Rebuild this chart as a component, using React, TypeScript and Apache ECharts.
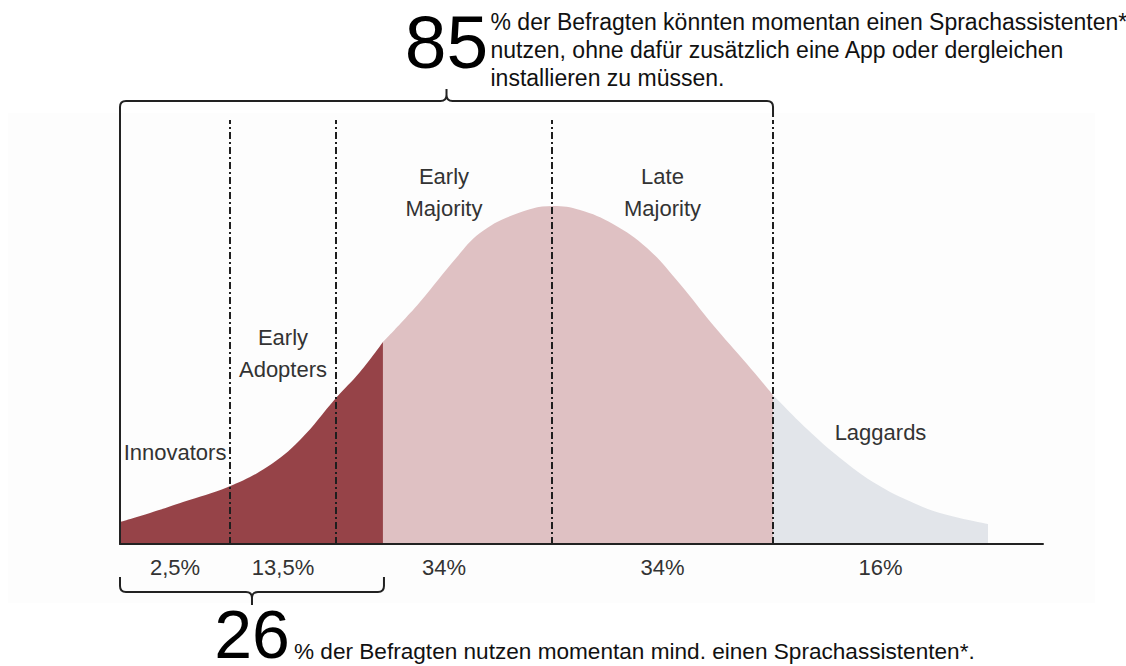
import React, { useEffect, useRef } from "react";
import * as echarts from "echarts";

// Bell curve (x: position across the axis 0–100, y: height 0–100)
const curveX = [0, 3.25, 6.83, 11.7, 15.93, 19.5, 23.4, 26.0, 28.49, 30.34, 32.5, 36.51, 39.0, 42.58, 46.91, 49.84, 53.41, 57.1, 60.67, 64.25, 67.93, 70.75, 74.43, 78.01, 81.58, 85.27, 88.84, 94.04];
const curveY = [5.15, 7.26, 9.84, 13.35, 18.03, 24.36, 34.19, 40.28, 47.31, 51.52, 56.67, 67.21, 72.83, 77.05, 79.16, 78.22, 74.94, 69.32, 60.89, 51.29, 42.15, 34.89, 26.93, 20.14, 14.52, 10.3, 7.26, 4.68];

// Adopter segments
const segmentBounds = [0, 11.92, 23.4, 46.8, 70.75, 94.04];
const segmentNames = ["Innovators", "Early\nAdopters", "Early\nMajority", "Late\nMajority", "Laggards"];
const segmentShares = ["2,5%", "13,5%", "34%", "34%", "16%"];

// Filled areas: current users (26 %), could use (85 %), rest
const fillBounds = [0, 28.49, 70.75, 94.04];
const fillColors = ["#964348", "#dfc1c3", "#e2e5ea"];

// Headline figures
const topFigure = "85";
const topText = ["% der Befragten könnten momentan einen Sprachassistenten*", "nutzen, ohne dafür zusätzlich eine App oder dergleichen", "installieren zu müssen."];
const bottomFigure = "26";
const bottomText = "% der Befragten nutzen momentan mind. einen Sprachassistenten*.";

const FONT = '"Liberation Sans", Arial, Helvetica, sans-serif';
const labelLevels = [21.5, 44.5, 82.3, 82.3, 26.0];
const shareLevel = -5.4;

export default function App() {
  const ref = useRef<HTMLDivElement>(null);
  useEffect(() => {
    if (!ref.current) return;
    const chart = echarts.init(ref.current, null, { renderer: "svg" });
    const pts = curveX.map((x, i) => [x, curveY[i]]);
    const seg = (a: number, b: number) => pts.filter((p) => p[0] >= a - 1e-9 && p[0] <= b + 1e-9);

    const series: any[] = [];
    for (let i = 0; i < fillBounds.length - 1; i++) {
      series.push({
        type: "line",
        data: seg(fillBounds[i], fillBounds[i + 1]),
        smooth: 0.4,
        symbol: "none",
        silent: true,
        lineStyle: { width: 0, color: fillColors[i] },
        areaStyle: { color: fillColors[i], opacity: 1 },
        z: 2,
      });
    }
    const dividers = segmentBounds.slice(1, segmentBounds.length - 1);
    series[series.length - 1].markLine = {
      silent: true,
      symbol: "none",
      label: { show: false },
      lineStyle: { color: "#1e1e1e", width: 2, type: [7, 3, 2, 3] },
      data: dividers.map((x) => [{ coord: [x, 0] }, { coord: [x, 99.3] }]),
    };

    chart.setOption({
      animation: false,
      grid: { left: 120, right: 83, top: 117, bottom: 122 },
      xAxis: {
        type: "value", min: 0, max: 100, z: 10,
        axisLine: { show: true, lineStyle: { color: "#222", width: 2 } },
        axisTick: { show: false }, axisLabel: { show: false }, splitLine: { show: false },
      },
      yAxis: {
        type: "value", min: 0, max: 100, z: 10,
        axisLine: { show: true, lineStyle: { color: "#222", width: 2 } },
        axisTick: { show: false }, axisLabel: { show: false }, splitLine: { show: false },
      },
      series,
    });

    const px = (x: number, y: number) => chart.convertToPixel({ gridIndex: 0 } as any, [x, y]) as number[];
    const gridTop = px(0, 100)[1];

    // top brace over 0 .. 85 % boundary
    const tL = px(fillBounds[0], 0)[0];
    const tR = px(fillBounds[2], 0)[0];
    const tC = (tL + tR) / 2;
    const tH = 101, tTip = 89, tEnd = gridTop;
    const dTop = `M${tL},${tEnd} L${tL},${tH + 6} Q${tL},${tH} ${tL + 6},${tH} L${tC - 6},${tH} Q${tC},${tH} ${tC},${tH - 6} L${tC},${tTip} M${tC},${tH - 6} Q${tC},${tH} ${tC + 6},${tH} L${tR - 6},${tH} Q${tR},${tH} ${tR},${tH + 6} L${tR},${tEnd}`;
    // bottom brace under 0 .. 26 % boundary
    const bL = px(fillBounds[0], 0)[0];
    const bR = px(fillBounds[1], 0)[0] + 1;
    const bC = (bL + bR) / 2;
    const bH = 592, bTip = 605, bEnd = 577;
    const dBot = `M${bL},${bEnd} L${bL},${bH - 6} Q${bL},${bH} ${bL + 6},${bH} L${bC - 6},${bH} Q${bC},${bH} ${bC},${bH + 6} L${bC},${bTip} M${bC},${bH + 6} Q${bC},${bH} ${bC + 6},${bH} L${bR - 6},${bH} Q${bR},${bH} ${bR},${bH - 6} L${bR},${bEnd}`;
    echarts.graphic.registerShape("braceTop", (echarts.graphic as any).extendPath(dTop, {}));
    echarts.graphic.registerShape("braceBottom", (echarts.graphic as any).extendPath(dBot, {}));

    const graphic: any[] = [
      { type: "rect", z: -10, shape: { x: 8, y: 113, width: 1087, height: 490 }, style: { fill: "#fdfdfd" }, silent: true },
      { type: "braceTop", x: 0, y: 0, z: 50, style: { fill: "none", stroke: "#222", lineWidth: 2 }, silent: true },
      { type: "braceBottom", x: 0, y: 0, z: 50, style: { fill: "none", stroke: "#222", lineWidth: 2 }, silent: true },
    ];
    for (let i = 0; i < segmentNames.length; i++) {
      const mid = (segmentBounds[i] + segmentBounds[i + 1]) / 2;
      const p = px(mid, labelLevels[i]);
      graphic.push({
        type: "text", x: p[0], y: p[1], z: 60, silent: true,
        style: { text: segmentNames[i], fontSize: 22, fontFamily: FONT, fill: "#333", align: "center", verticalAlign: "middle", lineHeight: 32 },
      });
      const q = px(mid, shareLevel);
      graphic.push({
        type: "text", x: q[0], y: q[1], z: 60, silent: true,
        style: { text: segmentShares[i], fontSize: 22, fontFamily: FONT, fill: "#333", align: "center", verticalAlign: "middle" },
      });
    }
    graphic.push({
      type: "text", x: tC, y: 42, z: 60, silent: true,
      style: { text: topFigure, fontSize: 75, fontFamily: FONT, fill: "#000", align: "center", verticalAlign: "middle", lineHeight: 60 },
    });
    topText.forEach((t, i) => {
      graphic.push({
        type: "text", x: tC + 44, y: 22 + i * 28, z: 60, silent: true,
        style: { text: t, fontSize: 23, fontFamily: FONT, fill: "#111", align: "left", verticalAlign: "middle" },
      });
    });
    graphic.push({
      type: "text", x: bC, y: 634, z: 60, silent: true,
      style: { text: bottomFigure, fontSize: 68, fontFamily: FONT, fill: "#000", align: "center", verticalAlign: "middle", lineHeight: 52 },
    });
    graphic.push({
      type: "text", x: bC + 42, y: 651, z: 60, silent: true,
      style: { text: bottomText, fontSize: 22.6, fontFamily: FONT, fill: "#111", align: "left", verticalAlign: "middle" },
    });
    chart.setOption({ graphic });

    return () => chart.dispose();
  }, []);
  return <div ref={ref} style={{ position: "fixed", left: 0, top: 0, width: 1126, height: 666, background: "#fff" }} />;
}
